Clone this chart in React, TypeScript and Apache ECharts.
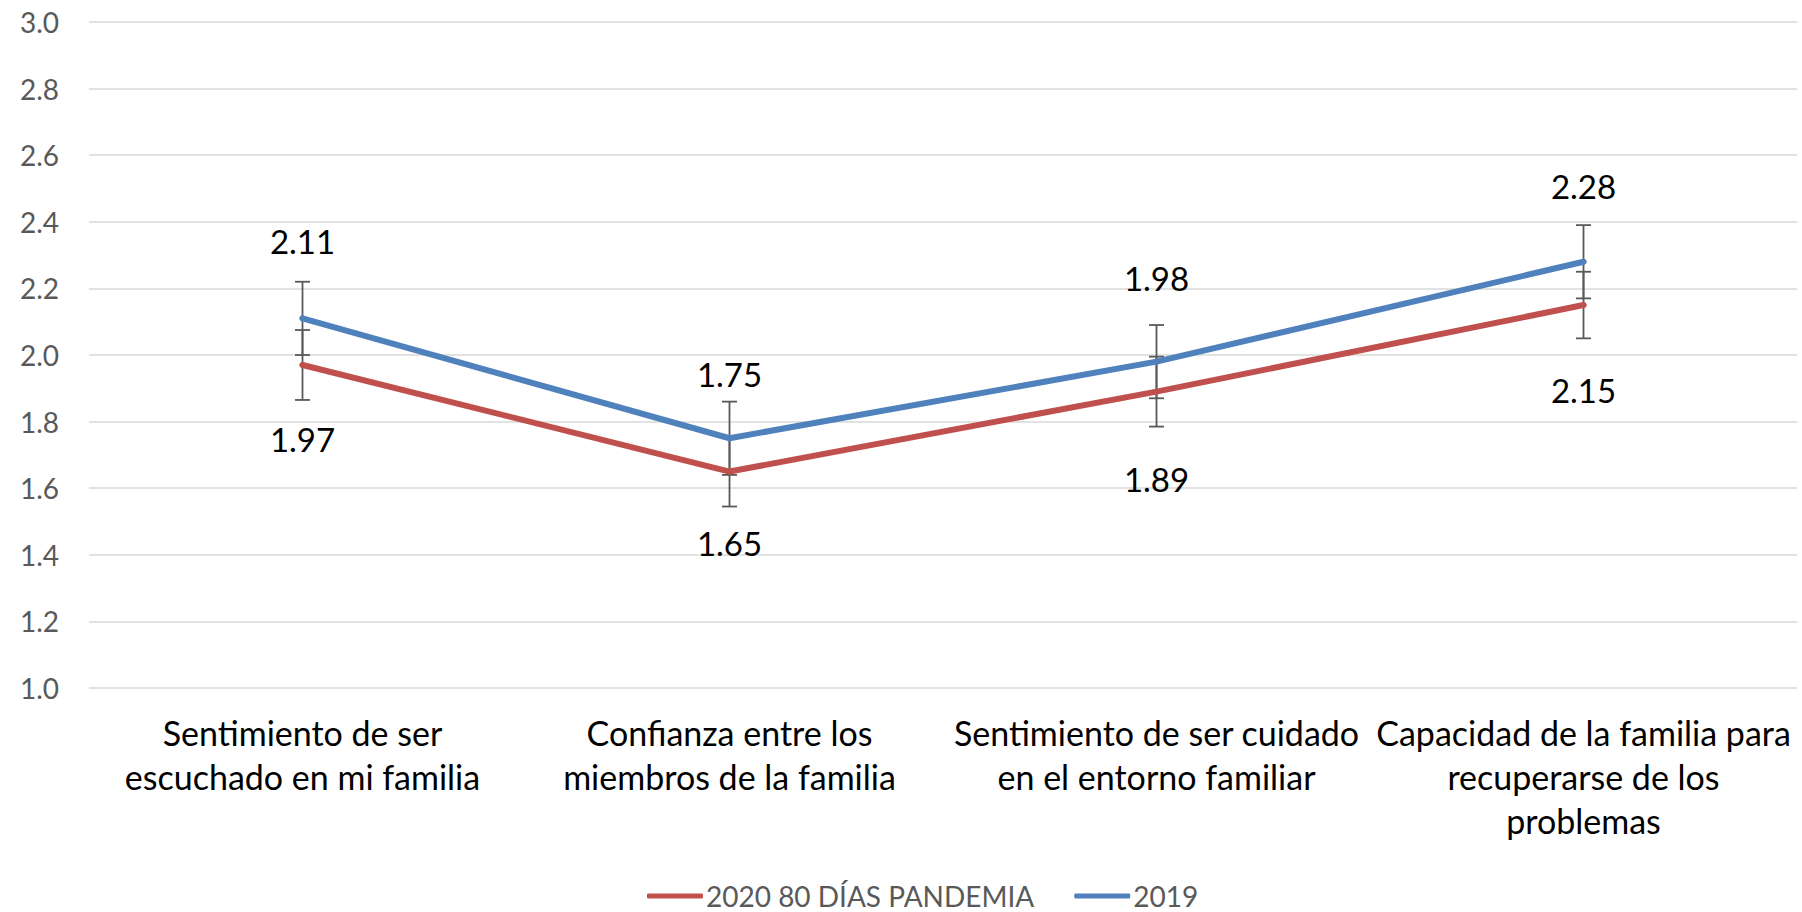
import React, { useEffect, useRef } from "react";
import * as echarts from "echarts";

const categories = [
  "Sentimiento de ser\nescuchado en mi familia",
  "Confianza entre los\nmiembros de la familia",
  "Sentimiento de ser cuidado\nen el entorno familiar",
  "Capacidad de la familia para\nrecuperarse de los\nproblemas",
];
const yTicks = [1.0, 1.2, 1.4, 1.6, 1.8, 2.0, 2.2, 2.4, 2.6, 2.8, 3.0];
const seriesNames = ["2020 80 DÍAS PANDEMIA", "2019"];
const values2020 = [1.97, 1.65, 1.89, 2.15];
const values2019 = [2.11, 1.75, 1.98, 2.28];
const err2020 = [0.105, 0.105, 0.105, 0.1];
const err2019 = [0.11, 0.11, 0.11, 0.11];

// label layout (distance from point, px)
const gap2019 = [58, 45, 64, 56];
const gap2020 = [55, 52, 68, 65];

const RED = "#C0504D";
const BLUE = "#4F81BD";
const FONT = "Lato";

export default function App() {
  const ref = useRef<HTMLDivElement>(null);
  useEffect(() => {
    if (!ref.current) return;
    const chart = echarts.init(ref.current, undefined, { renderer: "svg" });

    const errData = (vals: number[], errs: number[]) =>
      vals.map((v, i) => [i, v - errs[i], v + errs[i]]);

    const errSeries = (name: string, vals: number[], errs: number[]) => ({
      type: "custom",
      name: name + " err",
      z: 1,
      silent: true,
      data: errData(vals, errs),
      renderItem: (params: any, api: any) => {
        const i = api.value(0);
        const lo = api.coord([i, api.value(1)]);
        const hi = api.coord([i, api.value(2)]);
        const hw = 7.5;
        const style = { stroke: "#595959", lineWidth: 1.8 };
        return {
          type: "group",
          children: [
            { type: "line", shape: { x1: lo[0], y1: lo[1], x2: hi[0], y2: hi[1] }, style },
            { type: "line", shape: { x1: lo[0] - hw, y1: lo[1], x2: lo[0] + hw, y2: lo[1] }, style },
            { type: "line", shape: { x1: hi[0] - hw, y1: hi[1], x2: hi[0] + hw, y2: hi[1] }, style },
          ],
        };
      },
    });

    const lineData = (vals: number[], gaps: number[], pos: string) =>
      vals.map((v, i) => ({
        value: v,
        label: { position: pos, distance: gaps[i] },
      }));

    const labelCfg = {
      show: true,
      fontFamily: FONT,
      fontSize: 33,
      color: "#000000",
      formatter: (p: any) => p.value.toFixed(2),
    };

    chart.setOption({
      animation: false,
      textStyle: { fontFamily: FONT },
      grid: { left: 89, right: 5, top: 22, bottom: 224, containLabel: false },
      legend: {
        left: 647,
        top: 882,
        padding: 0,
        itemWidth: 56,
        itemHeight: 5,
        itemGap: 40,
        icon: "roundRect",
        textStyle: {
          fontFamily: FONT,
          fontSize: 28,
          lineHeight: 28,
          color: "#595959",
          padding: [0, 0, 0, -2],
        },
        data: seriesNames,
      },
      xAxis: {
        type: "category",
        data: categories,
        axisLine: { show: false },
        axisTick: { show: false },
        axisLabel: {
          interval: 0,
          hideOverlap: false,
          margin: 22,
          fontFamily: FONT,
          fontSize: 34,
          lineHeight: 44,
          color: "#000000",
        },
      },
      yAxis: {
        type: "value",
        min: 1,
        max: 3,
        interval: 0.2,
        axisLine: { show: false },
        axisTick: { show: false },
        splitLine: { lineStyle: { color: "#D9D9D9", width: 1.5 } },
        axisLabel: {
          margin: 30,
          fontFamily: FONT,
          fontSize: 28,
          color: "#595959",
          formatter: (v: number) => {
            const t = yTicks.find((x) => Math.abs(x - v) < 1e-6);
            return (t ?? v).toFixed(1);
          },
        },
      },
      series: [
        errSeries(seriesNames[0], values2020, err2020),
        errSeries(seriesNames[1], values2019, err2019),
        {
          type: "line",
          name: seriesNames[0],
          z: 3,
          data: lineData(values2020, gap2020, "bottom"),
          symbol: "circle",
          symbolSize: 6,
          itemStyle: { color: RED },
          lineStyle: { color: RED, width: 6, cap: "round", join: "round" },
          label: labelCfg,
        },
        {
          type: "line",
          name: seriesNames[1],
          z: 3,
          data: lineData(values2019, gap2019, "top"),
          symbol: "circle",
          symbolSize: 6,
          itemStyle: { color: BLUE },
          lineStyle: { color: BLUE, width: 6, cap: "round", join: "round" },
          label: labelCfg,
        },
      ],
    });
    return () => chart.dispose();
  }, []);
  return (
    <div
      ref={ref}
      style={{ position: "fixed", left: 0, top: 0, width: 1802, height: 912, background: "#ffffff" }}
    />
  );
}
